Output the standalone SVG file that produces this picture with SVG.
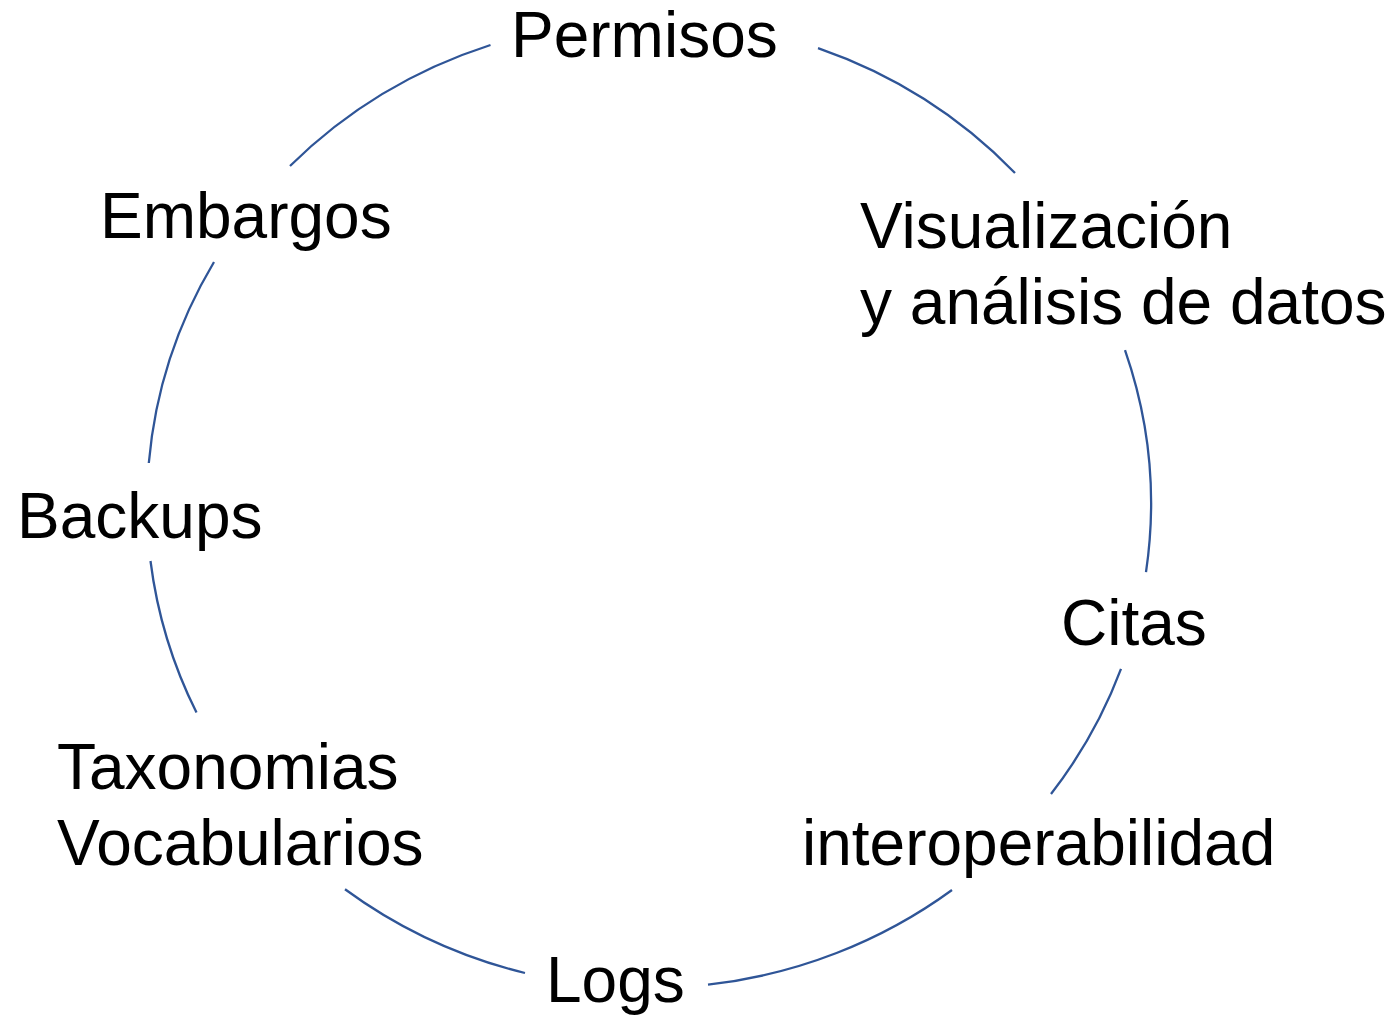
<svg xmlns="http://www.w3.org/2000/svg" width="1394" height="1016" viewBox="0 0 1394 1016">
<style>
.lbl{font-family:"Liberation Sans",Arial,sans-serif;font-size:64px;fill:#000}
.arc{fill:none;stroke:#2F5597;stroke-width:2.3}
</style>
<rect width="1394" height="1016" fill="#fff"/>
<g id="connectors">
<path class="arc" d="M818,48.2 A502,484 0 0 1 1015,173"/>
<path class="arc" d="M1125,350.2 A502,484 0 0 1 1146,572.1"/>
<path class="arc" d="M1121,668.9 A502,484 0 0 1 1051,794"/>
<path class="arc" d="M952,890 A502,484 0 0 1 708,984.7"/>
<path class="arc" d="M525,973 A502,484 0 0 1 345,889.2"/>
<path class="arc" d="M196.5,712.6 A502,484 0 0 1 150.5,561"/>
<path class="arc" d="M148.8,463 A502,484 0 0 1 214,262"/>
<path class="arc" d="M290,166 A502,484 0 0 1 490.5,45"/>
</g>
<g id="permisos"><text class="lbl" x="511" y="57">Permisos</text></g>
<g id="visualizacion"><text class="lbl" x="860" y="248">Visualización</text><text class="lbl" x="860" y="324">y análisis de datos</text></g>
<g id="citas"><text class="lbl" x="1061" y="645">Citas</text></g>
<g id="interoperabilidad"><text class="lbl" x="802" y="865">interoperabilidad</text></g>
<g id="logs"><text class="lbl" x="546" y="1002">Logs</text></g>
<g id="taxonomias"><text class="lbl" x="57" y="789">Taxonomias</text><text class="lbl" x="57" y="865">Vocabularios</text></g>
<g id="backups"><text class="lbl" x="17" y="538">Backups</text></g>
<g id="embargos"><text class="lbl" x="100" y="238">Embargos</text></g>
</svg>
